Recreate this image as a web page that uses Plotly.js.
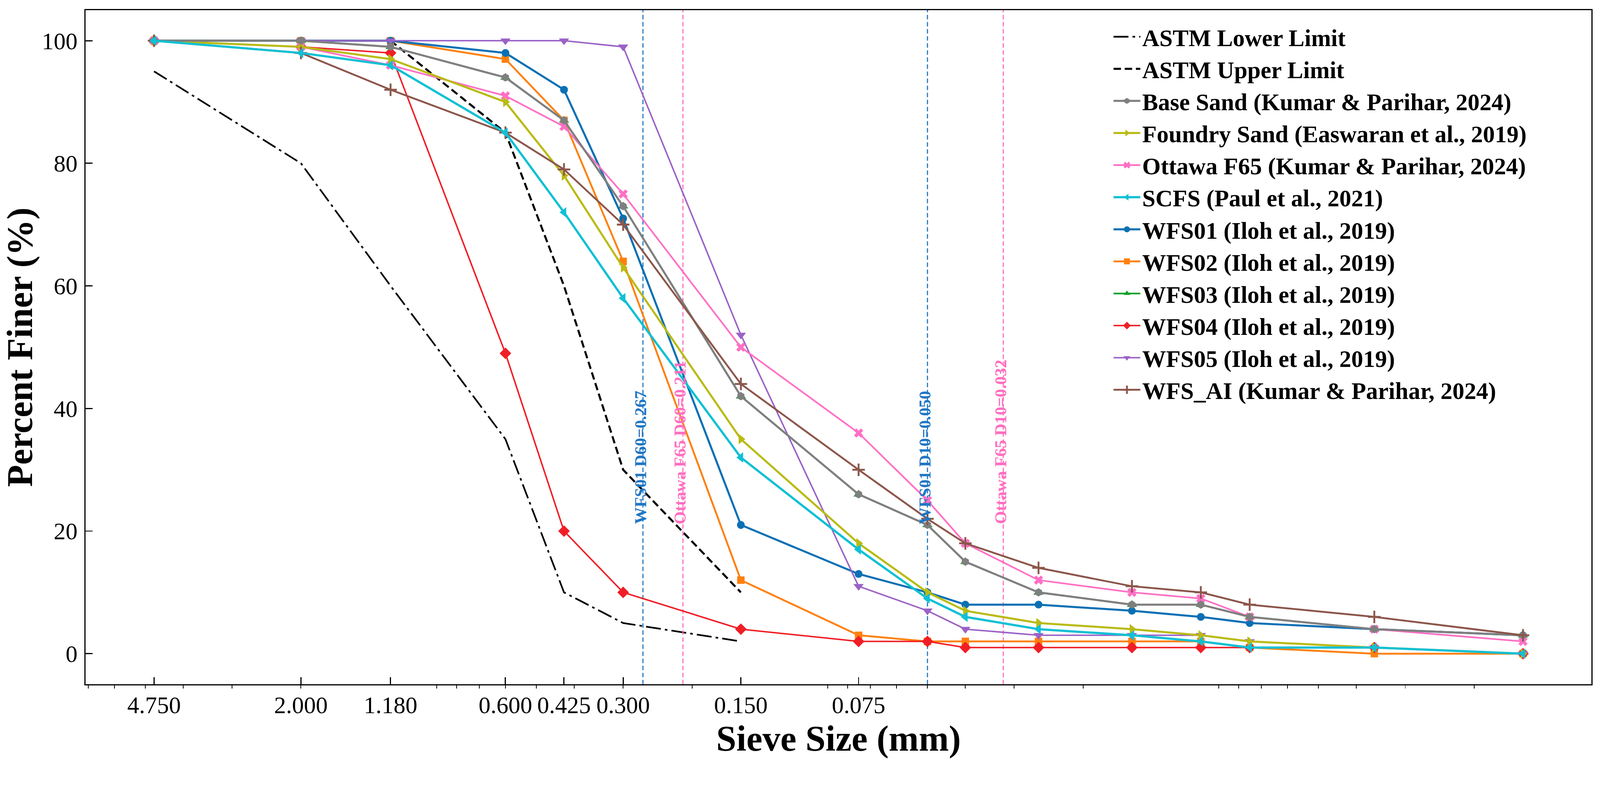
<!DOCTYPE html>
<html>
<head>
<meta charset="utf-8">
<script src="https://cdn.plot.ly/plotly-3.0.1.min.js"></script>
<style>
  html, body { margin: 0; padding: 0; background: #ffffff; overflow: hidden; }
  #chart { width: 4299px; height: 2037px; transform-origin: 0 0; }
</style>
</head>
<body>
<div id="chart"></div>
<script>
// ---- Data ----
const sieveSizes = [4.75, 2.0, 1.18, 0.6, 0.425, 0.3, 0.15, 0.075, 0.05, 0.04, 0.026, 0.015, 0.01, 0.0075, 0.0036, 0.0015];

const astmLowerSizes = [4.75, 2.0, 1.18, 0.6, 0.425, 0.3, 0.15];
const astmLower      = [95, 80, 60, 35, 10, 5, 2];
const astmUpperSizes = [1.18, 0.6, 0.425, 0.3, 0.15];
const astmUpper      = [100, 85, 60, 30, 10];

const baseSand    = [100, 100, 99, 94, 87, 73, 42, 26, 21, 15, 10, 8, 8, 6, 4, 3];
const foundrySand = [100, 99, 97, 90, 78, 63, 35, 18, 10, 7, 5, 4, 3, 2, 1, 0];
const ottawaF65   = [100, 99, 96, 91, 86, 75, 50, 36, 25, 18, 12, 10, 9, 6, 4, 2];
const scfs        = [100, 98, 96, 85, 72, 58, 32, 17, 9, 6, 4, 3, 2, 1, 1, 0];
const wfs01       = [100, 100, 100, 98, 92, 71, 21, 13, 10, 8, 8, 7, 6, 5, 4, 3];
const wfs02       = [100, 100, 100, 97, 87, 64, 12, 3, 2, 2, 2, 2, 2, 1, 0, 0];
const wfs03       = [100, 100, 99, 94, 87, 73, 42, 26, 21, 15, 10, 8, 8, 6, 4, 3];
const wfs04       = [100, 99, 98, 49, 20, 10, 4, 2, 2, 1, 1, 1, 1, 1, 1, 0];
const wfs05       = [100, 100, 100, 100, 100, 99, 52, 11, 7, 4, 3, 3, 3, 2, 1, 0];
const wfsAI       = [100, 98, 92, 85, 79, 70, 44, 30, 22, 18, 14, 11, 10, 8, 6, 3];

const xTickVals  = [4.75, 2.0, 1.18, 0.6, 0.425, 0.3, 0.15, 0.075];
const xTickText  = ['4.750', '2.000', '1.180', '0.600', '0.425', '0.300', '0.150', '0.075'];
const xMinorVals = [7, 6, 5, 4, 3, 2, 0.9, 0.8, 0.7, 0.6, 0.5, 0.4, 0.3, 0.2,
                    0.09, 0.08, 0.07, 0.06, 0.05, 0.04, 0.03, 0.02,
                    0.009, 0.008, 0.007, 0.006, 0.005, 0.004, 0.003, 0.002];
const yTickVals  = [0, 20, 40, 60, 80, 100];

const refDiameters = [0.267, 0.211, 0.050, 0.032];
const refLabels    = ['WFS01 D60=0.267', 'Ottawa F65 D60=0.211', 'WFS01 D10=0.050', 'Ottawa F65 D10=0.032'];
const refColors    = ['#1f77c4', '#ff6ec0', '#1f77c4', '#ff6ec0'];

// ---- Styling ----
const FONT = '"Liberation Serif", "Times New Roman", serif';

function series(name, y, color, symbol, size, width, rank, markerExtra) {
  const marker = Object.assign({ color: color, symbol: symbol, size: size }, markerExtra || {});
  return {
    x: sieveSizes, y: y, name: '<b>' + name + '</b>', type: 'scatter', mode: 'lines+markers',
    line: { color: color, width: width },
    marker: marker,
    legendrank: rank
  };
}

const traces = [];
traces.push({ x: astmLowerSizes, y: astmLower, name: '<b>ASTM Lower Limit</b>', type: 'scatter', mode: 'lines',
              line: { color: '#000000', width: 4.5, dash: '40px,11px,7px,11px' }, legendrank: 1 });
traces.push({ x: astmUpperSizes, y: astmUpper, name: '<b>ASTM Upper Limit</b>', type: 'scatter', mode: 'lines',
              line: { color: '#000000', width: 5.5, dash: '20px,10px' }, legendrank: 2 });

// reference (D60 / D10) vertical lines
refDiameters.forEach(function (d, i) {
  traces.push({ x: [d, d], y: [-5, 105], type: 'scatter', mode: 'lines', showlegend: false, hoverinfo: 'skip',
                line: { color: refColors[i], width: 3, dash: '12px,7px' } });
});

traces.push(series('WFS03 (Iloh et al., 2019)', wfs03, '#14a02a', 'triangle-up', 24, 4.5, 10));
traces.push(series('WFS02 (Iloh et al., 2019)', wfs02, '#ff800e', 'square', 20, 5, 9));
traces.push(series('WFS04 (Iloh et al., 2019)', wfs04, '#f01e26', 'diamond', 24, 4, 11));
traces.push(series('WFS01 (Iloh et al., 2019)', wfs01, '#0a70b4', 'circle', 21, 5.5, 8));
traces.push(series('WFS05 (Iloh et al., 2019)', wfs05, '#9a62c6', 'triangle-down', 24, 4, 12));
traces.push(series('Ottawa F65 (Kumar & Parihar, 2024)', ottawaF65, '#ff70c4', 'x', 22, 4.5, 5));
traces.push(series('Foundry Sand (Easwaran et al., 2019)', foundrySand, '#b9bb14', 'triangle-right', 24, 5.5, 4));
traces.push(series('Base Sand (Kumar & Parihar, 2024)', baseSand, '#7f7f7f', 'hexagon', 22, 5.5, 3));
traces.push(series('WFS_AI (Kumar & Parihar, 2024)', wfsAI, '#8c564b', 'cross-thin', 24, 5, 13,
                   { line: { color: '#8c564b', width: 5 } }));
traces.push(series('SCFS (Paul et al., 2021)', scfs, '#10c0d4', 'triangle-left', 24, 6, 6));

const annotations = refDiameters.map(function (d, i) {
  return {
    x: Math.log10(d), y: 21, xref: 'x', yref: 'y',
    text: '<b>' + refLabels[i] + '</b>', showarrow: false, textangle: -90,
    xanchor: 'center', yanchor: 'bottom', xshift: -7,
    font: { family: FONT, size: 45, color: refColors[i] }
  };
});

const layout = {
  width: 4299, height: 2037,
  margin: { l: 230, r: 23, t: 27, b: 199 },
  paper_bgcolor: '#ffffff', plot_bgcolor: '#ffffff',
  font: { family: FONT, color: '#000000' },
  showlegend: true,
  legend: {
    x: 0.6814, y: 0.987, xanchor: 'left', yanchor: 'top',
    bgcolor: 'rgba(255,255,255,0)', borderwidth: 0,
    font: { family: FONT, size: 64, color: '#000000' },
    itemwidth: 72, tracegroupgap: 0
  },
  xaxis: {
    type: 'log', range: [0.8517, -2.9989],
    tickmode: 'array', tickvals: xTickVals, ticktext: xTickText,
    ticks: 'inside', ticklen: 19, tickwidth: 3, tickcolor: '#000000',
    minor: { tickmode: 'array', tickvals: xMinorVals, ticks: 'outside', ticklen: 8, tickwidth: 2, tickcolor: '#000000', showgrid: false },
    showgrid: false, zeroline: false,
    showline: true, mirror: true, linecolor: '#000000', linewidth: 3,
    tickfont: { family: FONT, size: 64, color: '#000000' },
    ticklabelstandoff: -2,
    title: { text: '<b>Sieve Size (mm)</b>', font: { family: FONT, size: 97, color: '#000000' }, standoff: 20 }
  },
  yaxis: {
    range: [-5, 105],
    tickmode: 'array', tickvals: yTickVals,
    ticks: 'inside', ticklen: 19, tickwidth: 3, tickcolor: '#000000',
    showgrid: false, zeroline: false,
    showline: true, mirror: true, linecolor: '#000000', linewidth: 3,
    tickfont: { family: FONT, size: 64, color: '#000000' },
    ticklabelstandoff: 6,
    title: { text: '<b>Percent Finer (%)</b>', font: { family: FONT, size: 97, color: '#000000' }, standoff: 18 }
  },
  annotations: annotations
};

// Fit the fixed 4299x2037 figure into the actual viewport (in case it is smaller in CSS pixels)
(function fitToViewport() {
  const el = document.getElementById('chart');
  const s = Math.min(window.innerWidth / 4299, window.innerHeight / 2037);
  if (s > 0 && s < 0.999) { el.style.transform = 'scale(' + s + ')'; }
})();

Plotly.newPlot('chart', traces, layout, { displayModeBar: false, staticPlot: true });
</script>
</body>
</html>
